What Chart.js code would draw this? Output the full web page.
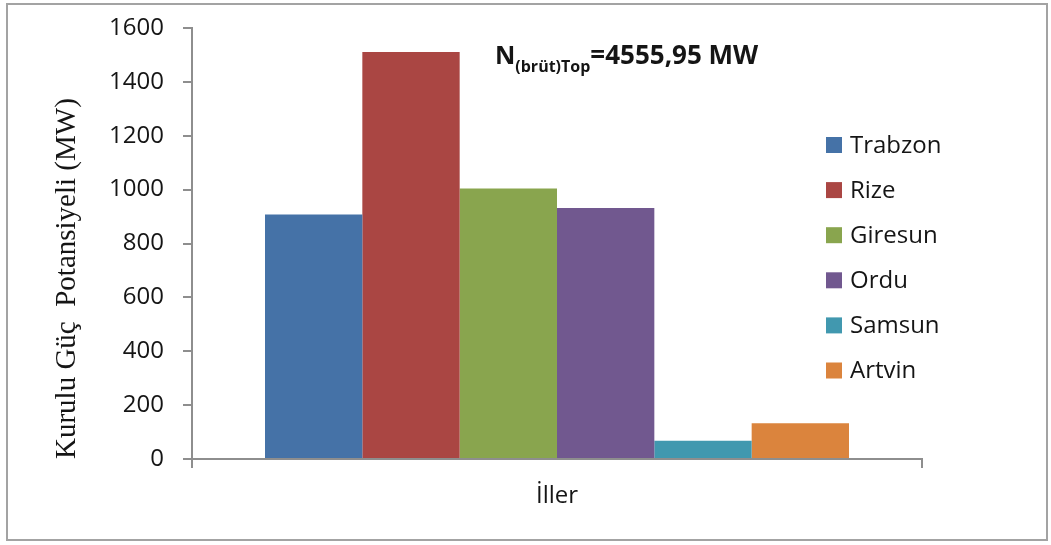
<!DOCTYPE html>
<html>
<head>
<meta charset="utf-8">
<script src="https://cdn.jsdelivr.net/npm/chart.js@4.4.1/dist/chart.umd.min.js"></script>
<style>
  html, body { margin: 0; padding: 0; background: #ffffff; }
  #wrap { width: 1051px; height: 545px; }
</style>
</head>
<body>
<div id="wrap"><canvas id="chart" width="1051" height="545"></canvas></div>
<script>
// Installed hydro power potential per province (MW)
const categories = ['İller'];
const provinces = ['Trabzon', 'Rize', 'Giresun', 'Ordu', 'Samsun', 'Artvin'];
const capacityMW = [908, 1511, 1004, 932, 68, 133];
const provinceColors = ['#4572A7', '#AA4643', '#89A54E', '#71588F', '#4198AF', '#DB843D'];
const yTicks = [0, 200, 400, 600, 800, 1000, 1200, 1400, 1600];
const totalMain = 'N';
const totalSub = '(brüt)Top';
const totalRest = '=4555,95 MW';
const yTitle = 'Kurulu Güç  Potansiyeli (MW)';

const AXIS_COLOR = '#8e8e8e';
const TEXT_COLOR = '#151515';

const datasets = provinces.map((name, i) => ({
  label: name,
  data: [capacityMW[i]],
  backgroundColor: provinceColors[i],
  borderWidth: 0,
  barPercentage: 1.0,
  categoryPercentage: 0.8
}));

// outer frame around the whole figure
const framePlugin = {
  id: 'frame',
  beforeDraw(chart) {
    const ctx = chart.ctx;
    ctx.save();
    ctx.fillStyle = '#ffffff';
    ctx.fillRect(0, 0, chart.width, chart.height);
    ctx.strokeStyle = '#a3a3a3';
    ctx.lineWidth = 2;
    ctx.strokeRect(7, 4, 1040, 536);
    ctx.restore();
  }
};

// legend drawn inside the plot, right side
const sideLegend = {
  id: 'sideLegend',
  afterDraw(chart) {
    const ctx = chart.ctx;
    ctx.save();
    ctx.font = '24px "Open Sans"';
    ctx.textBaseline = 'middle';
    ctx.textAlign = 'left';
    chart.data.datasets.forEach((ds, i) => {
      const cy = 145 + i * 45.1;
      ctx.fillStyle = ds.backgroundColor;
      ctx.fillRect(826, cy - 8, 16, 16);
      ctx.fillStyle = TEXT_COLOR;
      ctx.fillText(ds.label, 850, cy + 1);
    });
    ctx.restore();
  }
};

// total potential note with subscript
const totalNote = {
  id: 'totalNote',
  afterDraw(chart) {
    const ctx = chart.ctx;
    ctx.save();
    ctx.fillStyle = TEXT_COLOR;
    ctx.textBaseline = 'alphabetic';
    ctx.textAlign = 'left';
    let x = 495;
    const base = 64;
    ctx.font = 'bold 25px "Open Sans"';
    ctx.fillText(totalMain, x, base);
    x += ctx.measureText(totalMain).width;
    ctx.font = 'bold 16px "Open Sans"';
    ctx.fillText(totalSub, x, base + 8);
    x += ctx.measureText(totalSub).width;
    ctx.font = 'bold 26px "Open Sans"';
    ctx.fillText(totalRest, x, base);
    ctx.restore();
  }
};

new Chart(document.getElementById('chart'), {
  type: 'bar',
  data: { labels: categories, datasets },
  plugins: [framePlugin, sideLegend, totalNote],
  options: {
    responsive: false,
    animation: false,
    devicePixelRatio: 1,
    layout: { padding: { left: 0, right: 129, top: 28, bottom: 0 } },
    plugins: {
      legend: { display: false },
      tooltip: { enabled: false },
      title: { display: false }
    },
    scales: {
      x: {
        offset: true,
        grid: {
          offset: true,
          drawOnChartArea: false,
          drawTicks: true,
          tickLength: 9,
          color: AXIS_COLOR,
          lineWidth: 2
        },
        border: { display: true, color: AXIS_COLOR, width: 2 },
        ticks: {
          color: TEXT_COLOR,
          font: { family: '"Open Sans"', size: 24 },
          padding: 14,
          maxRotation: 0
        },
        afterFit(scale) { scale.height = 86; }
      },
      y: {
        min: 0,
        max: 1600,
        afterBuildTicks(scale) { scale.ticks = yTicks.map(v => ({ value: v })); },
        grid: {
          drawOnChartArea: false,
          drawTicks: true,
          tickLength: 9,
          color: AXIS_COLOR,
          lineWidth: 2
        },
        border: { display: true, color: AXIS_COLOR, width: 2 },
        ticks: {
          color: TEXT_COLOR,
          font: { family: '"Open Sans"', size: 24 },
          padding: 19,
          callback: v => String(v)
        },
        title: {
          display: true,
          text: yTitle,
          align: 'start',
          color: TEXT_COLOR,
          font: { family: '"Liberation Serif"', size: 29 },
          padding: { top: 50, bottom: 0 }
        },
        afterFit(scale) {
          scale.width = 192;
          scale.paddingTop = 0;
          scale.paddingBottom = 0;
        }
      }
    }
  }
});
</script>
</body>
</html>
